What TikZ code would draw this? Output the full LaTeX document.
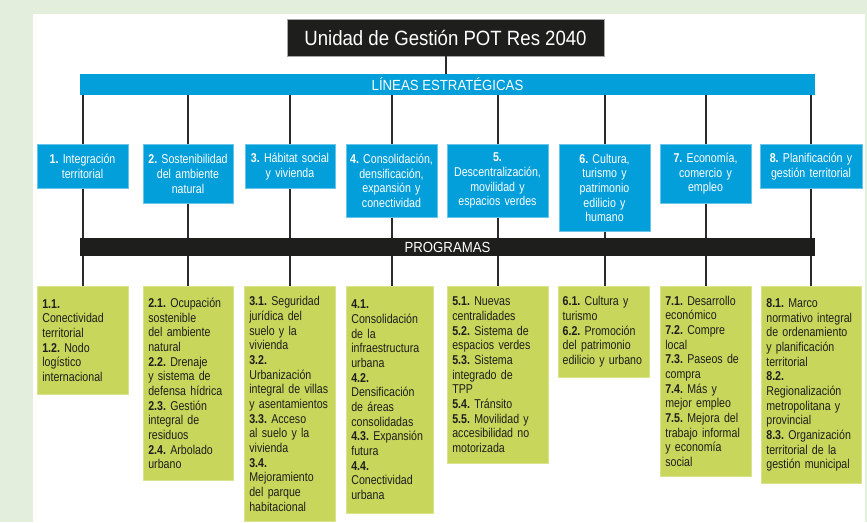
\documentclass[tikz,border=0pt]{standalone}
\usepackage{fontspec}
\setmainfont[FakeStretch=0.83,WordSpace=0.85]{Liberation Sans}
\newfontfamily\anchafont[FakeStretch=0.9]{Liberation Sans}
\hyphenpenalty=10000
\exhyphenpenalty=10000
\frenchspacing
\definecolor{azul}{HTML}{039FDA}
\definecolor{verde}{HTML}{C8D65B}
\definecolor{negro}{HTML}{1E1E1C}
\definecolor{fondo}{HTML}{E3EFDC}
\definecolor{trazo}{HTML}{2B2B2A}
\begin{document}
\begin{tikzpicture}[x=0.75pt,y=-0.75pt]
\def\pxu{0.75pt}
\tikzset{
base/.style={font=\fontsize{9.6}{11}\selectfont,line width=0.6pt,anchor=north},
eje/.style={base,fill=azul,draw=azul!60!white,text=white,align=center,inner xsep=1pt,inner ysep=3pt},
prog/.style={base,fill=verde,draw=verde!70!white,text=negro,align=left,inner xsep=4pt,inner ysep=5pt},
barra/.style={minimum width=735*\pxu,inner sep=0pt,text=white,font=\anchafont\fontsize{11}{13}\selectfont},
enlace/.style={draw=trazo,line width=1.5pt}}
\useasboundingbox (0,0) rectangle (867,522);
\clip (0,0) rectangle (867,522);
\fill[fondo] (0,0) rectangle (867,522);
\fill[white] (33,14) rectangle (865,522);
% cabecera
\node[fill=negro,draw=gray!70,line width=0.6pt,text=white,font=\anchafont\fontsize{15.5}{18}\selectfont,minimum width=317*\pxu,minimum height=37*\pxu] (titulo) at (445.5,37.5) {Unidad de Gestión POT Res 2040};
\node[barra,fill=azul,minimum height=21*\pxu] (lineas) at (447.5,84.5) {LÍNEAS ESTRATÉGICAS};
% lineas estrategicas
\node[eje,text width=66.25pt,minimum height=44*\pxu] (L1) at (82.5,144) {\textbf{1.} Integración\\territorial};
\node[eje,text width=65.5pt,minimum height=59*\pxu] (L2) at (188,144) {\textbf{2.} Sostenibilidad\\del ambiente\\natural};
\node[eje,text width=65.5pt,minimum height=44*\pxu] (L3) at (290,144) {\textbf{3.} Hábitat social\\y vivienda};
\node[eje,text width=66.25pt,minimum height=73*\pxu] (L4) at (391.5,144) {\textbf{4.} Consolidación,\\densificación,\\expansión y\\conectividad};
\node[eje,text width=73.75pt,minimum height=73*\pxu] (L5) at (497.5,144) {\textbf{5.}\\Descentralización,\\movilidad y\\espacios verdes};
\node[eje,text width=66.25pt,minimum height=87*\pxu] (L6) at (604.5,144) {\textbf{6.} Cultura,\\turismo y\\patrimonio\\edilicio y\\humano};
\node[eje,text width=66.25pt,minimum height=59*\pxu] (L7) at (705.5,144) {\textbf{7.} Economía,\\comercio y\\empleo};
\node[eje,text width=74.5pt,minimum height=44*\pxu] (L8) at (811,144) {\textbf{8.} Planificación y\\gestión territorial};
% programas
\node[prog,text width=60.25pt,minimum height=108*\pxu] (P1) at (82.5,286) {\textbf{1.1.}\\Conectividad\\territorial\\\textbf{1.2.} Nodo\\logístico\\internacional};
\node[prog,text width=59.5pt,minimum height=194*\pxu] (P2) at (188,286) {\textbf{2.1.} Ocupación\\sostenible\\del ambiente\\natural\\\textbf{2.2.} Drenaje\\y sistema de\\defensa hídrica\\\textbf{2.3.} Gestión\\integral de\\residuos\\\textbf{2.4.} Arbolado\\urbano};
\node[prog,text width=60.25pt,minimum height=235*\pxu] (P3) at (289.5,286) {\textbf{3.1.} Seguridad\\jurídica del\\suelo y la\\vivienda\\\textbf{3.2.}\\Urbanización\\integral de villas\\y asentamientos\\\textbf{3.3.} Acceso\\al suelo y la\\vivienda\\\textbf{3.4.}\\Mejoramiento\\del parque\\habitacional};
\node[prog,text width=57.25pt,minimum height=227*\pxu] (P4) at (389.5,286) {\textbf{4.1.}\\Consolidación\\de la\\infraestructura\\urbana\\\textbf{4.2.}\\Densificación\\de áreas\\consolidadas\\\textbf{4.3.} Expansión\\futura\\\textbf{4.4.}\\Conectividad\\urbana};
\node[prog,text width=67.75pt,minimum height=177*\pxu] (P5) at (497.5,286) {\textbf{5.1.} Nuevas\\centralidades\\\textbf{5.2.} Sistema de\\espacios verdes\\\textbf{5.3.} Sistema\\integrado de\\TPP\\\textbf{5.4.} Tránsito\\\textbf{5.5.} Movilidad y\\accesibilidad no\\motorizada};
\node[prog,inner xsep=3pt,text width=62pt,minimum height=91*\pxu] (P6) at (604,286) {\textbf{6.1.} Cultura y\\turismo\\\textbf{6.2.} Promoción\\del patrimonio\\edilicio y urbano};
\node[prog,text width=60.25pt,minimum height=190*\pxu] (P7) at (705.5,286) {\textbf{7.1.} Desarrollo\\económico\\\textbf{7.2.} Compre\\local\\\textbf{7.3.} Paseos de\\compra\\\textbf{7.4.} Más y\\mejor empleo\\\textbf{7.5.} Mejora del\\trabajo informal\\y economía\\social};
\node[prog,text width=67pt,minimum height=197*\pxu] (P8) at (811,286) {\textbf{8.1.} Marco\\normativo integral\\de ordenamiento\\y planificación\\territorial\\\textbf{8.2.}\\Regionalización\\metropolitana y\\provincial\\\textbf{8.3.} Organización\\territorial de la\\gestión municipal};
% conectores
\draw[enlace] (titulo.south) -- (titulo.south |- lineas.north);
\foreach \i in {1,...,8} {
  \draw[enlace] (L\i.north |- lineas.south) -- (L\i.north);
  \draw[enlace] (L\i.south) -- (L\i.south |- P\i.north);
}
\node[barra,fill=negro,minimum height=18*\pxu] (programas) at (447.5,247) {PROGRAMAS};
\end{tikzpicture}
\end{document}
